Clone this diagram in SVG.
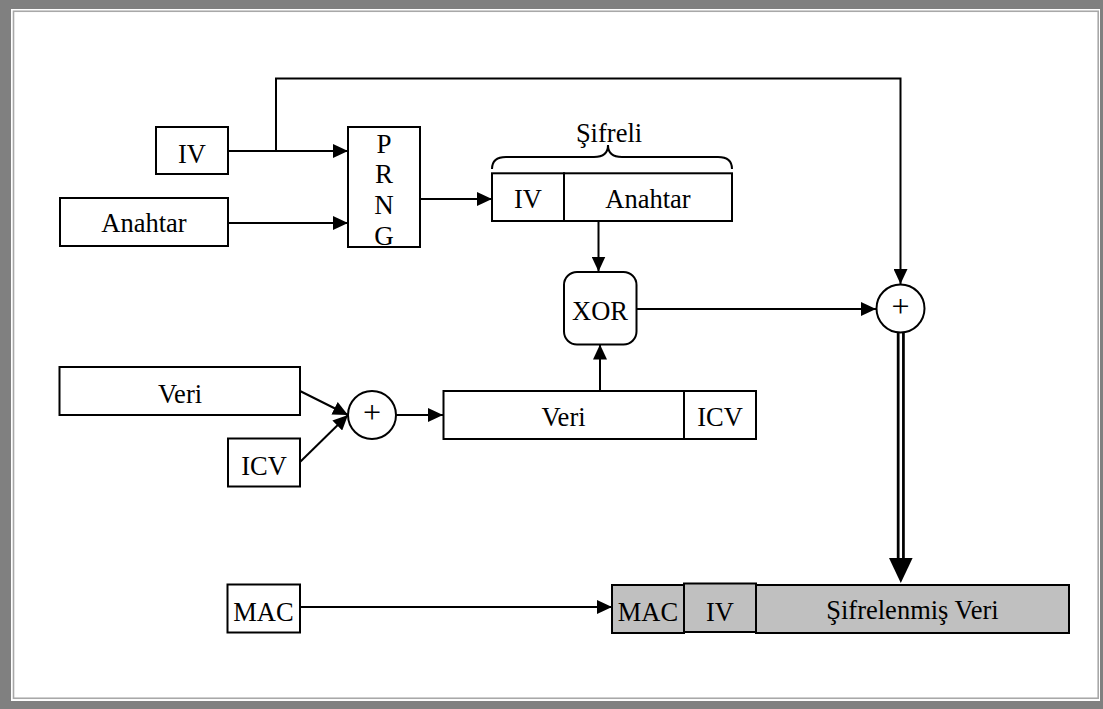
<svg xmlns="http://www.w3.org/2000/svg" width="1103" height="709" viewBox="0 0 1103 709">
<style>
.box{fill:#fff;stroke:#000;stroke-width:2}
.gbox{fill:#c0c0c0;stroke:#000;stroke-width:2}
.t{font-family:"Liberation Serif","Times New Roman",serif;font-size:26.5px;fill:#000;text-anchor:middle}
.pr{font-family:"Liberation Serif","Times New Roman",serif;font-size:27px;fill:#000;text-anchor:middle}
.plus{font-family:"Liberation Serif","Times New Roman",serif;font-size:32px;fill:#000;text-anchor:middle}
.ln{fill:none;stroke:#000;stroke-width:2}
</style>
<defs>
<marker id="arr" markerWidth="16" markerHeight="14" refX="15" refY="7" orient="auto" markerUnits="userSpaceOnUse">
<path d="M0,0 L15,7 L0,14 z" fill="#000"/>
</marker>
</defs>
<rect x="0" y="0" width="1103" height="709" fill="#808080"/>
<rect x="11" y="9" width="1089" height="692" fill="#fff"/>
<rect x="13.5" y="11.25" width="1084.7" height="687" fill="none" stroke="#a8a8a8" stroke-width="1.6"/>

<g id="connectors">
<path class="ln" d="M228,151 H348" marker-end="url(#arr)"/>
<path class="ln" d="M276,151 V78.5 H900.5 V284" marker-end="url(#arr)"/>
<path class="ln" d="M228,223 H348" marker-end="url(#arr)"/>
<path class="ln" d="M420,199 H492" marker-end="url(#arr)"/>
<path class="ln" d="M598.5,221 V271.5" marker-end="url(#arr)"/>
<path class="ln" d="M600,390.7 V344.5" marker-end="url(#arr)"/>
<path class="ln" d="M636.5,309 H876" marker-end="url(#arr)"/>
<path class="ln" d="M300,391 L348,415" marker-end="url(#arr)"/>
<path class="ln" d="M300,462 L348,415" marker-end="url(#arr)"/>
<path class="ln" d="M396,415 H443" marker-end="url(#arr)"/>
<path class="ln" d="M300,607 H612" marker-end="url(#arr)"/>
<path d="M900.8,332 V560" stroke="#000" stroke-width="8" fill="none"/>
<path d="M900.8,333 V559" stroke="#fff" stroke-width="2.5" fill="none"/>
<polygon points="889,558 912.6,558 900.8,583" fill="#000"/>
<path class="ln" d="M492,169 Q492,157 506,157 L594,157 Q608,157 608,145 Q608,157 622,157 L718,157 Q732,157 732,169"/>
</g>

<g id="iv-in">
<rect class="box" x="156" y="127" width="72" height="47"/>
<text class="t" x="192" y="163">IV</text>
</g>
<g id="anahtar-in">
<rect class="box" x="60" y="198" width="168" height="48"/>
<text class="t" x="144" y="232">Anahtar</text>
</g>
<g id="prng">
<rect class="box" x="348" y="127" width="72" height="120"/>
<text class="pr" x="384" y="152.5">P</text>
<text class="pr" x="384" y="183">R</text>
<text class="pr" x="384" y="213.5">N</text>
<text class="pr" x="384" y="244.5">G</text>
</g>
<g id="sifreli">
<text class="t" x="609" y="142">Şifreli</text>
</g>
<g id="key">
<rect class="box" x="492" y="173.3" width="72" height="47.7"/>
<rect class="box" x="564" y="173.3" width="168" height="47.7"/>
<text class="t" x="528" y="208">IV</text>
<text class="t" x="648" y="208">Anahtar</text>
</g>
<g id="xor">
<rect class="box" x="564" y="272" width="72.5" height="72.5" rx="13" ry="13"/>
<text class="t" x="600" y="320">XOR</text>
</g>
<g id="veri-in">
<rect class="box" x="59.5" y="367" width="240.5" height="48"/>
<text class="t" x="180" y="402.5">Veri</text>
</g>
<g id="icv-in">
<rect class="box" x="228" y="438.5" width="72" height="48"/>
<text class="t" x="264" y="475">ICV</text>
</g>
<g id="plus1">
<circle cx="372" cy="415" r="24" fill="#fff" stroke="#000" stroke-width="2"/>
<text class="plus" x="372" y="423">+</text>
</g>
<g id="veri-icv">
<rect class="box" x="443.5" y="391" width="240.5" height="48"/>
<rect class="box" x="684" y="391" width="72" height="48"/>
<text class="t" x="563.5" y="426">Veri</text>
<text class="t" x="720" y="426">ICV</text>
</g>
<g id="plus2">
<circle cx="900.5" cy="308.5" r="24" fill="#fff" stroke="#000" stroke-width="2"/>
<text class="plus" x="900.5" y="316.5">+</text>
</g>
<g id="mac-in">
<rect class="box" x="227.5" y="584.5" width="72.5" height="48"/>
<text class="t" x="263.5" y="620.5">MAC</text>
</g>
<g id="frame-out">
<rect class="gbox" x="612" y="585" width="72" height="48"/>
<rect class="gbox" x="756" y="585" width="313" height="48"/>
<rect class="gbox" x="684" y="583.5" width="72" height="48.5"/>
<text class="t" x="648" y="620.5">MAC</text>
<text class="t" x="720" y="620.5">IV</text>
<text class="t" x="912.5" y="619">Şifrelenmiş Veri</text>
</g>
</svg>
